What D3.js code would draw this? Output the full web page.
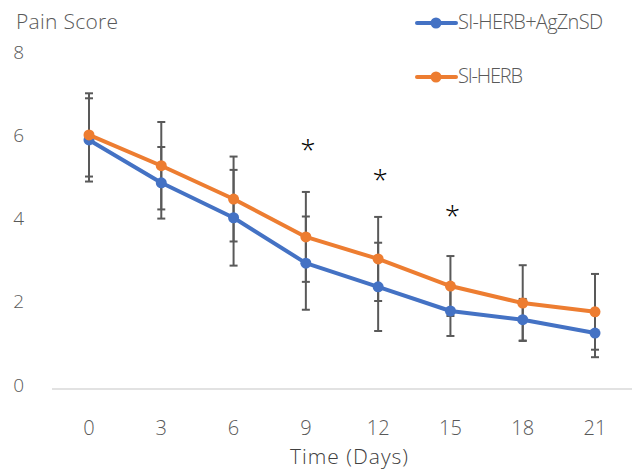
<!DOCTYPE html>
<html>
<head>
<meta charset="utf-8">
<script src="https://cdn.jsdelivr.net/npm/d3@7"></script>
<style>
  body { margin: 0; background: #fff; }
  text { font-family: "Open Sans", "Noto Sans", sans-serif; font-weight: 300; fill: #595959; }
</style>
</head>
<body>
<script>
// days on the x axis
const days = [0, 3, 6, 9, 12, 15, 18, 21];

// SI-HERB+AgZnSD
const blueVals = [5.96, 4.93, 4.09, 3.00, 2.43, 1.85, 1.64, 1.32];
const blueErr  = [1.00, 0.86, 1.15, 1.12, 1.06, 0.60, 0.50, 0.58];

// SI-HERB
const orangeVals = [6.08, 5.34, 4.54, 3.63, 3.10, 2.45, 2.04, 1.83];
const orangeErr  = [1.00, 1.05, 1.02, 1.08, 1.01, 0.72, 0.91, 0.91];

const yTicks = [0, 2, 4, 6, 8];

// significance stars: day, height in score units
const starDays = [9, 12, 15];
const starVals = [5.89, 5.17, 4.30];

const w = 636, h = 473;

const svg = d3.select("body").append("svg")
  .attr("width", w)
  .attr("height", h);

const xScale = d3.scalePoint()
  .domain(days)
  .range([89, 595]);

const yScale = d3.scaleLinear()
  .domain([0, 8])
  .range([388, 55]);

// baseline
svg.append("line")
  .attr("x1", 52).attr("x2", 632)
  .attr("y1", yScale(0) + 1).attr("y2", yScale(0) + 1)
  .attr("stroke", "#d9d9d9")
  .attr("stroke-width", 1.5);

// y tick labels
svg.selectAll(".ytick")
  .data(yTicks)
  .enter()
  .append("text")
  .attr("class", "ytick")
  .attr("x", 24)
  .attr("y", d => yScale(d) - 3)
  .attr("dy", "0.35em")
  .attr("text-anchor", "end")
  .style("font-size", "19px")
  .text(d => d);

// x tick labels
svg.selectAll(".xtick")
  .data(days)
  .enter()
  .append("text")
  .attr("class", "xtick")
  .attr("x", d => xScale(d))
  .attr("y", 428)
  .attr("dy", "0.35em")
  .attr("text-anchor", "middle")
  .style("font-size", "20px")
  .text(d => d);

svg.append("text")
  .attr("x", 16).attr("y", 22)
  .attr("dy", "0.35em")
  .attr("textLength", 102)
  .style("font-size", "21px")
  .text("Pain Score");

svg.append("text")
  .attr("x", 349).attr("y", 457)
  .attr("dy", "0.35em")
  .attr("text-anchor", "middle")
  .attr("textLength", 118)
  .style("font-size", "21px")
  .style("fill", "#404040")
  .text("Time (Days)");

const series = [
  { name: "SI-HERB+AgZnSD", vals: blueVals, err: blueErr, color: "#4472C4", ly: 23, tw: 145 },
  { name: "SI-HERB", vals: orangeVals, err: orangeErr, color: "#ED7D31", ly: 77, tw: 65 }
];

// error bars
series.forEach(s => {
  const g = svg.append("g");
  days.forEach((d, i) => {
    const x = xScale(d);
    const top = yScale(s.vals[i] + s.err[i]);
    const bot = yScale(s.vals[i] - s.err[i]);
    g.append("line")
      .attr("x1", x).attr("x2", x)
      .attr("y1", top).attr("y2", bot)
      .attr("stroke", "#595959").attr("stroke-width", 2);
    [top, bot].forEach(yy => {
      g.append("line")
        .attr("x1", x - 4).attr("x2", x + 4)
        .attr("y1", yy).attr("y2", yy)
        .attr("stroke", "#595959").attr("stroke-width", 2);
    });
  });
});

const line = d3.line()
  .x((d, i) => xScale(days[i]))
  .y(d => yScale(d));

series.forEach(s => {
  svg.append("path")
    .datum(s.vals)
    .attr("d", line)
    .attr("fill", "none")
    .attr("stroke", s.color)
    .attr("stroke-width", 4)
    .attr("stroke-linejoin", "round");

  svg.selectAll(null)
    .data(s.vals)
    .enter()
    .append("circle")
    .attr("cx", (d, i) => xScale(days[i]))
    .attr("cy", d => yScale(d))
    .attr("r", 5.5)
    .attr("fill", s.color);

  // legend
  svg.append("line")
    .attr("x1", 417).attr("x2", 456)
    .attr("y1", s.ly).attr("y2", s.ly)
    .attr("stroke", s.color)
    .attr("stroke-width", 4)
    .attr("stroke-linecap", "round");
  svg.append("circle")
    .attr("cx", 436).attr("cy", s.ly)
    .attr("r", 5.5)
    .attr("fill", s.color);
  svg.append("text")
    .attr("x", 458).attr("y", s.ly - 1)
    .attr("dy", "0.35em")
    .attr("textLength", s.tw)
    .style("font-size", "20px")
    .text(s.name);
});

// stars
svg.selectAll(".star")
  .data(starDays)
  .enter()
  .append("text")
  .attr("class", "star")
  .attr("x", d => xScale(d) + 2)
  .attr("y", (d, i) => yScale(starVals[i]))
  .attr("dy", "0.62em")
  .attr("text-anchor", "middle")
  .style("font-size", "28px")
  .style("fill", "#000")
  .text("*");
</script>
</body>
</html>
